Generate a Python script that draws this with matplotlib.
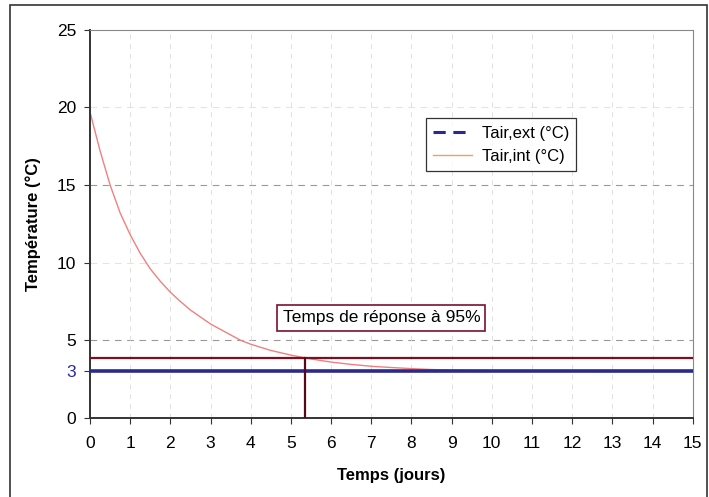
import matplotlib
matplotlib.use("Agg")
import matplotlib.pyplot as plt
from matplotlib.lines import Line2D
from matplotlib.patches import Rectangle

plt.rcParams["font.family"] = ["Liberation Sans", "DejaVu Sans"]

# donnees
temps = [0, 0.25, 0.5, 0.75, 1, 1.25, 1.5, 1.75, 2, 2.25, 2.5, 2.75, 3, 3.25, 3.5,
         3.75, 4, 4.5, 5, 5.5, 6, 6.5, 7, 7.5, 8, 8.5, 9, 10, 11, 12, 13, 14, 15]
t_int = [19.7, 17.2, 15.0, 13.2, 11.8, 10.6, 9.6, 8.8, 8.1, 7.5, 6.95, 6.5, 6.05, 5.7, 5.35,
         5.0, 4.75, 4.35, 4.05, 3.8, 3.6, 3.45, 3.33, 3.25, 3.18, 3.12, 3.08, 3.04, 3.02,
         3.01, 3.0, 3.0, 3.0]
t_ext_x = [0, 15]
t_ext = [3, 3]
seuil_95 = 3.85
t_95 = 5.35

fig = plt.figure(figsize=(7.09, 4.97), dpi=100)
ax = fig.add_axes([0.127, 0.159, 0.850, 0.781])

# grille
for y, c in [(5, "#999999"), (10, "#e4e4e4"), (15, "#999999"), (20, "#e4e4e4")]:
    ax.axhline(y, color=c, lw=0.8, ls=(0, (6, 5)), zorder=0)
for x in range(1, 15):
    ax.axvline(x, color="#e0e0e0", lw=0.7, ls=(0, (5, 5)), zorder=0)

ax.plot(t_ext_x, t_ext, color="#2a2a8c", lw=2.6, zorder=3)
ax.plot(temps, t_int, color="#f08080", lw=1.0, zorder=2)
ax.plot([0, 15], [seuil_95, seuil_95], color="#7a1020", lw=1.6, zorder=4)
ax.plot([t_95, t_95], [0, seuil_95], color="#5a0818", lw=1.6, zorder=4)

ax.text(7.25, 6.45, "Temps de réponse à 95%", fontsize=12.5, ha="center", va="center",
        bbox=dict(boxstyle="square,pad=0.3", fc="white", ec="#7a1030", lw=1.2), zorder=5)

handles = [Line2D([], [], color="#2a2a8c", lw=2.2, ls=(0, (4, 2.5))),
           Line2D([], [], color="#f0a060", lw=1.0)]
leg = ax.legend(handles, ["Tair,ext (°C)", "Tair,int (°C)"], loc="center",
                bbox_to_anchor=(0.682, 0.704), fontsize=12, frameon=True, fancybox=False,
                edgecolor="black", handlelength=2.3, handletextpad=0.6, borderpad=0.45,
                labelspacing=0.5, borderaxespad=0)
leg.get_frame().set_linewidth(0.9)

ax.set_xlim(0, 15)
ax.set_ylim(0, 25)
ax.set_xticks(range(0, 16))
ax.set_yticks([0, 3, 5, 10, 15, 20, 25])
ax.tick_params(labelsize=12.5, direction="out", length=4, color="#333333")
ax.tick_params(axis="x", pad=9)
ax.tick_params(axis="y", pad=6)
ax.get_yticklabels()[1].set_color("#2a2a9c")
ax.spines["left"].set_color("#333333")
ax.spines["left"].set_linewidth(1.4)
ax.spines["bottom"].set_color("#333333")
ax.spines["bottom"].set_linewidth(1.4)
ax.spines["top"].set_color("#888888")
ax.spines["right"].set_color("#888888")
ax.spines["top"].set_linewidth(0.8)
ax.spines["right"].set_linewidth(0.8)

ax.set_xlabel("Temps (jours)", fontsize=12, fontweight="bold", labelpad=12)
ax.set_ylabel("Température (°C)", fontsize=12, fontweight="bold", labelpad=11)

fig.patches.append(Rectangle((0.014, -0.05), 0.983, 1.04, transform=fig.transFigure,
                             fill=False, ec="#333333", lw=1.2))

fig.savefig("out.png", dpi=100)
